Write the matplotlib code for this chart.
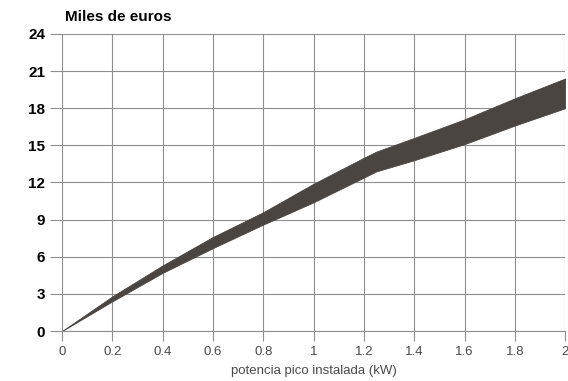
import matplotlib
matplotlib.use("Agg")
import matplotlib.pyplot as plt

# band of cost (thousand euros) vs installed peak power
POWER = [0, 0.2, 0.4, 0.6, 0.8, 1.0, 1.2, 1.25, 1.4, 1.6, 1.8, 2.0]
UPPER = [0, 2.8, 5.3, 7.6, 9.6, 11.9, 14.0, 14.5, 15.6, 17.1, 18.8, 20.4]
LOWER = [0, 2.4, 4.7, 6.7, 8.6, 10.4, 12.4, 12.9, 13.8, 15.1, 16.6, 18.0]
XTICKS = [0, 0.2, 0.4, 0.6, 0.8, 1, 1.2, 1.4, 1.6, 1.8, 2]
XLABELS = ["0", "0.2", "0.4", "0.6", "0.8", "1", "1.2", "1.4", "1.6", "1.8", "2"]
YTICKS = [0, 3, 6, 9, 12, 15, 18, 21, 24]

plt.rcParams["font.family"] = ["Liberation Sans", "DejaVu Sans"]
GRID = "#8e8e8e"

fig = plt.figure(figsize=(5.68, 3.81), dpi=100)
ax = fig.add_axes([0.109, 0.131, 0.886, 0.780])
ax.fill_between(POWER, LOWER, UPPER, color="#4a4541", linewidth=0.6, edgecolor="#4a4541")

ax.set_xlim(0, 2)
ax.set_ylim(0, 24)
ax.set_xticks(XTICKS)
ax.set_xticklabels(XLABELS)
ax.set_yticks(YTICKS)
ax.grid(True, color=GRID, linewidth=0.8)
ax.set_axisbelow(True)
for s in ["top", "right", "left"]:
    ax.spines[s].set_visible(False)
ax.spines["bottom"].set_color(GRID)
ax.tick_params(axis="x", length=7, color=GRID, labelsize=9.5, labelcolor="#4a4a4a", pad=4)
ax.tick_params(axis="y", length=9, color=GRID, labelsize=11, pad=3)
for t in ax.get_yticklabels():
    t.set_fontweight("bold")
ax.set_xlabel("potencia pico instalada (kW)", fontsize=9.5, color="#4a4a4a", labelpad=5)
fig.text(0.114, 0.945, "Miles de euros", fontsize=11, fontweight="bold")

fig.savefig("out.png", dpi=100)
